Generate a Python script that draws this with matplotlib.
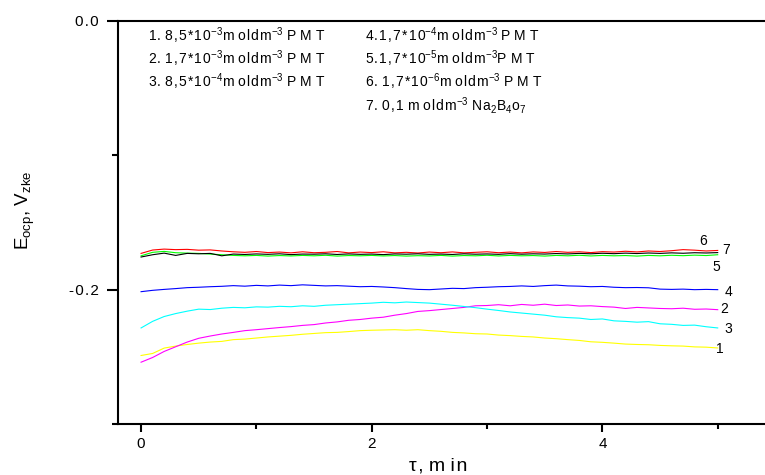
import matplotlib
matplotlib.use("Agg")
from matplotlib import pyplot as plt
import numpy as np

plt.rcParams['font.family'] = ['Liberation Sans', 'DejaVu Sans']
plt.rcParams['mathtext.fontset'] = 'custom'
plt.rcParams['mathtext.rm'] = 'Liberation Sans'
plt.rcParams['mathtext.default'] = 'regular'
plt.rcParams['axes.unicode_minus'] = False

# time, min (0 ... 5 step 0.1)
t = np.round(np.arange(0, 5.01, 0.1), 2)

# open-circuit potential, V
e1 = [-0.2490, -0.2475, -0.2435, -0.2420, -0.2408, -0.2398, -0.2390, -0.2385, -0.2372, -0.2368,
      -0.2360, -0.2352, -0.2346, -0.2340, -0.2332, -0.2326, -0.2320, -0.2318, -0.2312, -0.2305,
      -0.2302, -0.2300, -0.2298, -0.2302, -0.2298, -0.2305, -0.2310, -0.2318, -0.2322, -0.2328,
      -0.2330, -0.2338, -0.2342, -0.2348, -0.2352, -0.2360, -0.2365, -0.2372, -0.2378, -0.2388,
      -0.2392, -0.2398, -0.2405, -0.2408, -0.2410, -0.2415, -0.2418, -0.2420, -0.2426, -0.2428,
      -0.2434]
e2 = [-0.2540, -0.2505, -0.2460, -0.2425, -0.2390, -0.2362, -0.2345, -0.2330, -0.2318, -0.2305,
      -0.2298, -0.2290, -0.2282, -0.2275, -0.2266, -0.2260, -0.2248, -0.2240, -0.2228, -0.2222,
      -0.2212, -0.2205, -0.2190, -0.2178, -0.2162, -0.2156, -0.2148, -0.2140, -0.2132, -0.2120,
      -0.2118, -0.2112, -0.2120, -0.2110, -0.2116, -0.2108, -0.2118, -0.2114, -0.2122, -0.2120,
      -0.2126, -0.2130, -0.2140, -0.2132, -0.2136, -0.2140, -0.2142, -0.2138, -0.2146, -0.2144,
      -0.2149]
e3 = [-0.2285, -0.2236, -0.2200, -0.2178, -0.2160, -0.2145, -0.2148, -0.2138, -0.2132, -0.2135,
      -0.2128, -0.2130, -0.2124, -0.2127, -0.2120, -0.2124, -0.2116, -0.2112, -0.2108, -0.2104,
      -0.2100, -0.2094, -0.2098, -0.2092, -0.2096, -0.2100, -0.2108, -0.2116, -0.2125, -0.2134,
      -0.2145, -0.2155, -0.2166, -0.2174, -0.2182, -0.2190, -0.2202, -0.2208, -0.2212, -0.2222,
      -0.2218, -0.2232, -0.2236, -0.2242, -0.2238, -0.2254, -0.2258, -0.2266, -0.2264, -0.2276,
      -0.2285]
e4 = [-0.2015, -0.2005, -0.1998, -0.1992, -0.1985, -0.1982, -0.1978, -0.1975, -0.1970, -0.1974,
      -0.1968, -0.1972, -0.1966, -0.1970, -0.1964, -0.1968, -0.1972, -0.1970, -0.1974, -0.1978,
      -0.1976, -0.1980, -0.1985, -0.1992, -0.1998, -0.2000, -0.1995, -0.1990, -0.1992, -0.1985,
      -0.1982, -0.1978, -0.1976, -0.1972, -0.1976, -0.1970, -0.1966, -0.1972, -0.1974, -0.1978,
      -0.1976, -0.1982, -0.1985, -0.1984, -0.1986, -0.1996, -0.1998, -0.1996, -0.2000, -0.1998,
      -0.2000]
e5 = [-0.1748, -0.1722, -0.1715, -0.1725, -0.1728, -0.1730, -0.1735, -0.1740, -0.1745, -0.1748,
      -0.1745, -0.1750, -0.1746, -0.1749, -0.1745, -0.1748, -0.1744, -0.1750, -0.1746, -0.1748,
      -0.1745, -0.1749, -0.1746, -0.1750, -0.1747, -0.1749, -0.1745, -0.1750, -0.1746, -0.1748,
      -0.1744, -0.1749, -0.1745, -0.1748, -0.1746, -0.1750, -0.1745, -0.1748, -0.1744, -0.1749,
      -0.1745, -0.1748, -0.1746, -0.1750, -0.1745, -0.1748, -0.1744, -0.1747, -0.1743, -0.1746,
      -0.1740]
e6 = [-0.1730, -0.1705, -0.1698, -0.1702, -0.1700, -0.1706, -0.1704, -0.1712, -0.1718, -0.1722,
      -0.1716, -0.1724, -0.1720, -0.1726, -0.1718, -0.1725, -0.1722, -0.1716, -0.1726, -0.1720,
      -0.1724, -0.1718, -0.1726, -0.1722, -0.1727, -0.1720, -0.1725, -0.1719, -0.1726, -0.1722,
      -0.1718, -0.1725, -0.1720, -0.1726, -0.1719, -0.1723, -0.1716, -0.1722, -0.1718, -0.1724,
      -0.1717, -0.1720, -0.1714, -0.1719, -0.1712, -0.1716, -0.1710, -0.1702, -0.1706, -0.1712,
      -0.1708]
e7 = [-0.1757, -0.1740, -0.1728, -0.1745, -0.1730, -0.1733, -0.1730, -0.1748, -0.1735, -0.1738,
      -0.1734, -0.1737, -0.1733, -0.1739, -0.1735, -0.1736, -0.1733, -0.1738, -0.1734, -0.1737,
      -0.1735, -0.1739, -0.1734, -0.1736, -0.1733, -0.1737, -0.1735, -0.1738, -0.1733, -0.1736,
      -0.1734, -0.1737, -0.1732, -0.1736, -0.1733, -0.1735, -0.1731, -0.1734, -0.1730, -0.1733,
      -0.1729, -0.1732, -0.1728, -0.1731, -0.1727, -0.1730, -0.1726, -0.1729, -0.1725, -0.1727,
      -0.1724]

series = [e1, e2, e3, e4, e5, e6, e7]
colors = ["#FFFF00", "#FF00FF", "#00FFFF", "#0000FF", "#00FF00", "#FF0000", "#000000"]
curve_ids = ["1", "2", "3", "4", "5", "6", "7"]
# where each curve number is written (data coords)
id_x = [5.02, 5.06, 5.09, 5.09, 4.99, 4.87, 5.07]
id_y = [-0.2439, -0.2141, -0.2290, -0.2015, -0.1829, -0.1636, -0.1708]

legend_col1 = ["1. 8,5*10$^{-3}$m oldm$^{-3}$ P M T",
               "2. 1,7*10$^{-3}$m oldm$^{-3}$ P M T",
               "3. 8,5*10$^{-4}$m oldm$^{-3}$ P M T"]
legend_col2 = ["4.1,7*10$^{-4}$m oldm$^{-3}$ P M T",
               "5.1,7*10$^{-5}$m oldm$^{-3}$P M T",
               "6. 1,7*10$^{-6}$m oldm$^{-3}$ P M T",
               "7. 0,1 m oldm$^{-3}$ Na$_2$B$_4$o$_7$"]

HAIR = "\u200a"


def track(s):
    # wide letter spacing like the original: hair space between plain characters
    out = ""
    in_math = False
    for i, ch in enumerate(s):
        out += ch
        if ch == "$":
            in_math = not in_math
            continue
        nxt = s[i + 1] if i + 1 < len(s) else ""
        if not in_math and ch != " " and nxt not in ("", " ", "$"):
            out += HAIR
    return out


fig = plt.figure(figsize=(7.65, 4.75), dpi=100)
ax = fig.add_axes([118 / 765, 1 - 424 / 475, 647 / 765, 403 / 475])

for ys, c in zip(series, colors):
    ax.plot(t, ys, color=c, lw=0.8)

for lab, x, y in zip(curve_ids, id_x, id_y):
    ax.text(x, y, lab, ha="center", va="center", fontsize=10)

ax.set_xlim(-0.2, 5.41)
ax.set_ylim(-0.3, 0.0)

ax.set_xticks([0, 2, 4])
ax.set_xticks([1, 3, 5], minor=True)
ax.set_yticks([0.0, -0.2])
ax.set_yticklabels([track("0.0"), track("-0.2")])
ax.set_yticks([-0.1, -0.3], minor=True)

for s in ["left", "bottom", "top"]:
    ax.spines[s].set_linewidth(1.5)
ax.spines["right"].set_visible(False)
ax.tick_params(axis="x", which="major", length=6, width=1.5, labelsize=11, pad=3)
ax.tick_params(axis="x", which="minor", length=3.5, width=1.5)
ax.tick_params(axis="y", which="major", length=8, width=1.5, labelsize=11, pad=6)
ax.tick_params(axis="y", which="minor", length=4.5, width=1.5)

for i, s in enumerate(legend_col1):
    ax.text(0.0464, 0.9511 - i * 0.0578, track(s), transform=ax.transAxes, fontsize=10,
            va="baseline")
for i, s in enumerate(legend_col2):
    ax.text(0.3818, 0.9511 - i * 0.0578, track(s), transform=ax.transAxes, fontsize=10,
            va="baseline")

fig.text(438 / 765, 1 - 466 / 475, track("τ, m in"), ha="center", va="center", fontsize=14)
fig.text(25 / 765, 1 - 210 / 475, "E$_{ocp}$, V$_{zke}$", ha="center", va="center",
         rotation=90, fontsize=13.5)

fig.savefig("out.png", dpi=100)
